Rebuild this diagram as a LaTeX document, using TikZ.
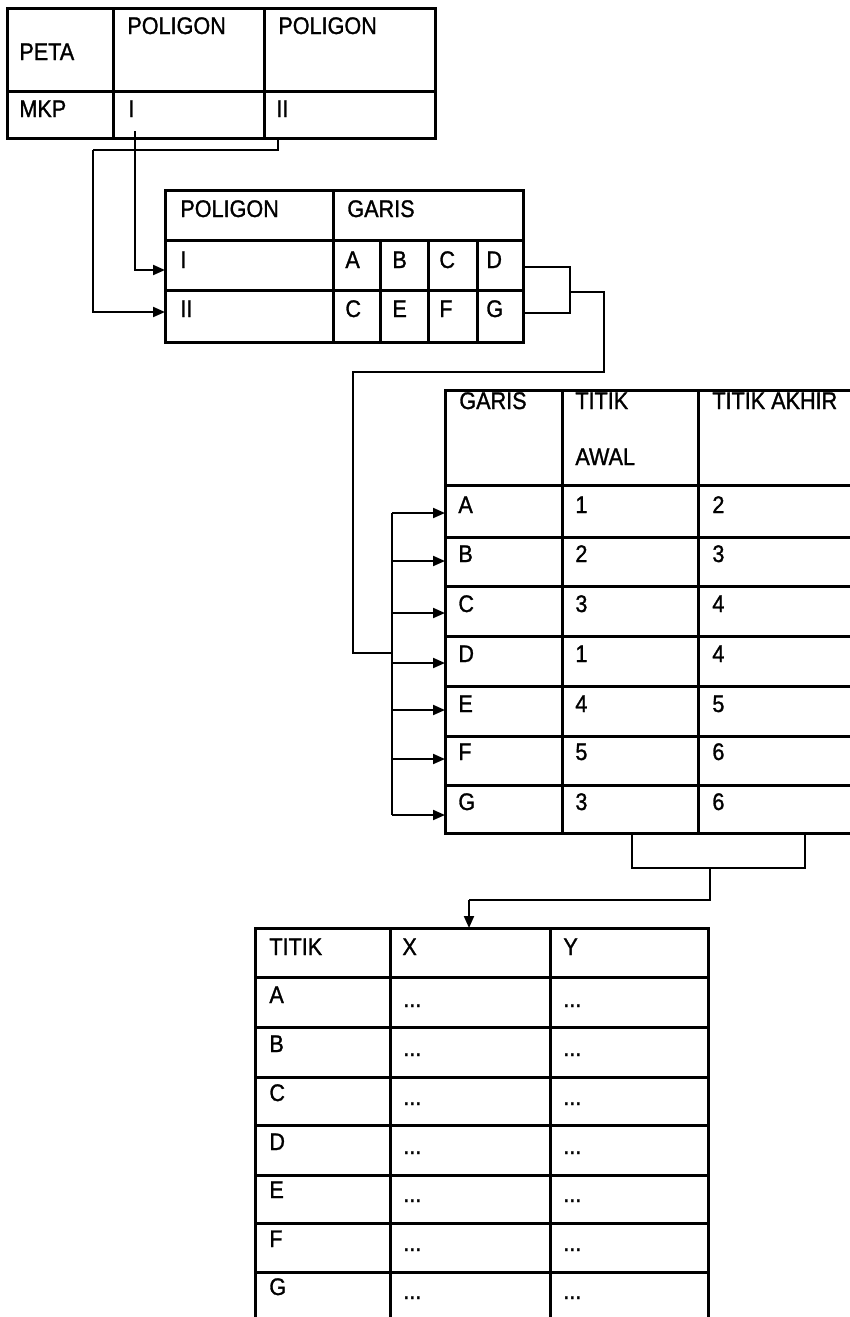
\documentclass[tikz,border=0pt]{standalone}
\usepackage{fontspec}
\setmainfont{Liberation Sans}[FakeBold=1.2, FakeStretch=0.9]
\usetikzlibrary{arrows.meta}
\tikzset{
  tbl/.style={line width=1.5pt, line join=miter},
  conn/.style={line width=1pt},
  arr/.style={conn, -{Triangle[length=6pt,width=5pt]}},
  txt/.style={anchor=base west, inner sep=0pt, font=\fontsize{12}{14}\selectfont},
}
\begin{document}
\begin{tikzpicture}[x=0.5pt,y=-0.5pt]
\useasboundingbox (0,0) rectangle (850,1317);
\clip (0,0) rectangle (850,1317);
\fill[white] (0,0) rectangle (850,1317);

% ---------- Table 1: PETA ----------
\draw[tbl] (7,8) rectangle (435,138);
\draw[tbl] (7,91) -- (435,91);
\draw[tbl] (113,8) -- (113,138);
\draw[tbl] (264,8) -- (264,138);
\node[txt] (peta) at (19,60) {PETA};
\node[txt] (pol1) at (127,34) {POLIGON};
\node[txt] (pol2) at (278,34) {POLIGON};
\node[txt] (mkp) at (19,117) {MKP};
\node[txt] (p1) at (128,117) {I};
\node[txt] (p2) at (276,117) {II};

% ---------- Table 2: POLIGON / GARIS ----------
\draw[tbl] (165,190) rectangle (523,342);
\draw[tbl] (165,240) -- (523,240);
\draw[tbl] (165,290) -- (523,290);
\draw[tbl] (333,190) -- (333,342);
\foreach \x in {380,428,477} \draw[tbl] (\x,240) -- (\x,342);
\node[txt] (t2pol) at (180,217) {POLIGON};
\node[txt] (t2gar) at (347,217) {GARIS};
\node[txt] (t2I) at (180,268) {I};
\node[txt] (t2II) at (180,317) {II};
\node[txt] (gA) at (345,268) {A};
\node[txt] (gB) at (392,268) {B};
\node[txt] (gC) at (439,268) {C};
\node[txt] (gD) at (486,268) {D};
\node[txt] (gC2) at (345,317) {C};
\node[txt] (gE) at (392,317) {E};
\node[txt] (gF) at (439,317) {F};
\node[txt] (gG) at (486,317) {G};

% ---------- Table 3: GARIS / TITIK AWAL / TITIK AKHIR ----------
\draw[tbl] (445,390) rectangle (880,833);
\foreach \y in {485,537,586,636,686,736,785} \draw[tbl] (445,\y) -- (880,\y);
\draw[tbl] (562,390) -- (562,833);
\draw[tbl] (698,390) -- (698,833);
\node[txt] (h3a) at (459,409) {GARIS};
\node[txt] (h3b) at (575,409) {TITIK};
\node[txt] (h3c) at (575,465) {AWAL};
\node[txt] (h3d) at (712,409) {TITIK AKHIR};
\foreach \n/\y/\a/\b in {A/513/1/2, B/562/2/3, C/612/3/4, D/662/1/4, E/712/4/5, F/760/5/6, G/810/3/6} {
  \node[txt] (r3\n) at (458,\y) {\n};
  \node[txt] (r3\n a) at (575,\y) {\a};
  \node[txt] (r3\n b) at (712,\y) {\b};
}

% ---------- Table 4: TITIK / X / Y ----------
\draw[tbl] (255,928) rectangle (708,1324);
\foreach \y in {977,1027,1077,1125,1175,1223,1272} \draw[tbl] (255,\y) -- (708,\y);
\draw[tbl] (390,928) -- (390,1324);
\draw[tbl] (550,928) -- (550,1324);
\node[txt] (h4a) at (269,955) {TITIK};
\node[txt] (h4b) at (402,955) {X};
\node[txt] (h4c) at (563,955) {Y};
\foreach \n/\y in {A/1003, B/1052, C/1101, D/1150, E/1198, F/1247, G/1295} {
  \node[txt] (r4\n) at (269,\y) {\n};
  \node[txt] (r4\n x) at (403,\y+4) {...};
  \node[txt] (r4\n y) at (563,\y+4) {...};
}

% ---------- Connectors ----------
% Table 1 -> Table 2
\coordinate (s1) at (135,131);
\coordinate (e1) at (165,270);
\draw[arr] (s1) |- (e1);
\coordinate (s2) at (278,137);
\coordinate (k2) at (93,150);
\coordinate (e2) at (165,312);
\draw[conn] (s2) |- (k2);
\draw[arr] (k2) |- (e2);

% Table 2 (D,G) -> Table 3
\coordinate (dR) at (523,267);
\coordinate (gR) at (523,313);
\coordinate (bm) at (570,292);
\coordinate (k3) at (604,372);
\coordinate (k4) at (353,653);
\coordinate (busTop) at (392,513);
\coordinate (busBot) at (392,815);
\coordinate (busJ) at (392,653);
\draw[conn] (dR) -| (bm) |- (gR);
\draw[conn] (bm) -| (k3) -| (k4) -- (busJ);
\draw[conn] (busTop) -- (busBot);
\foreach \n/\y in {A/513, B/561, C/613, D/663, E/710, F/759, G/815} {
  \coordinate (bs\n) at (392,\y);
  \coordinate (be\n) at (445,\y);
  \draw[arr] (bs\n) -- (be\n);
}

% Table 3 -> Table 4
\coordinate (u1) at (632,833);
\coordinate (u2) at (805,833);
\coordinate (um) at (710,868);
\coordinate (k5) at (469,900);
\coordinate (e4) at (469,928);
\draw[conn] (u1) |- (um) -| (u2);
\draw[conn] (um) |- (k5);
\draw[arr] (k5) -- (e4);
\end{tikzpicture}
\end{document}
